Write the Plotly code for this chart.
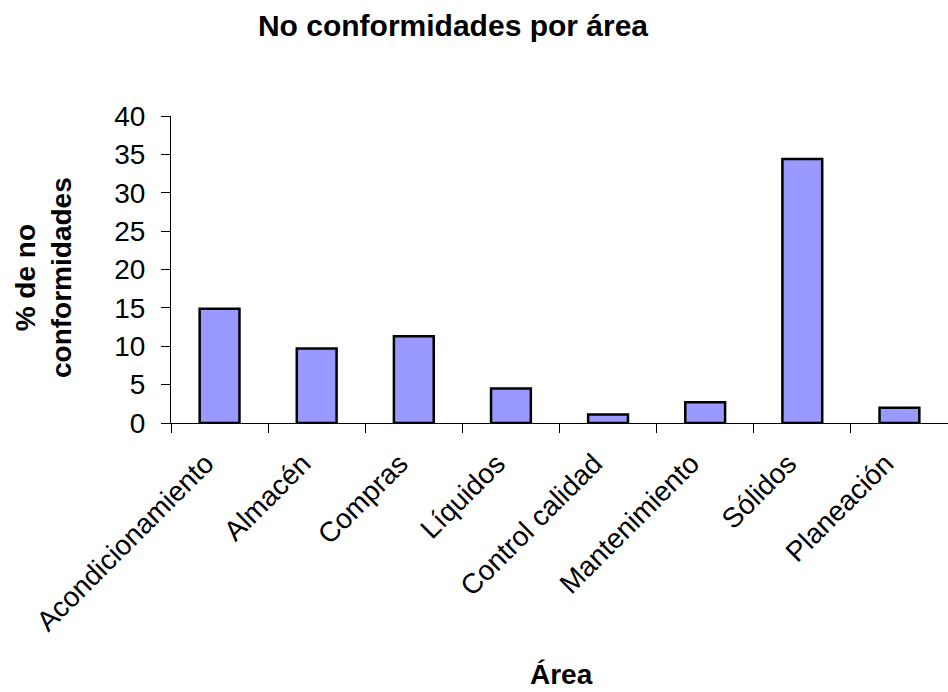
import plotly.graph_objects as go

categorias = ["Acondicionamiento", "Almacén", "Compras", "Líquidos",
              "Control calidad", "Mantenimiento", "Sólidos", "Planeación"]
porcentajes = [14.9, 9.7, 11.3, 4.5, 1.1, 2.7, 34.4, 2.0]
y_ticks = [0, 5, 10, 15, 20, 25, 30, 35, 40]

FONT = "Liberation Sans, Arial, sans-serif"

fig = go.Figure(go.Bar(
    x=categorias, y=porcentajes,
    marker=dict(color="#9999FF", line=dict(color="black", width=2.5)),
    width=0.41,
))

fig.update_layout(
    width=948, height=692,
    margin=dict(l=171, r=0, t=116, b=269),
    paper_bgcolor="white", plot_bgcolor="white",
    font=dict(family=FONT, size=28, color="black"),
    showlegend=False,
    title=dict(text="<b>No conformidades por área</b>", xref="container", x=453/948,
               xanchor="center", yref="container", y=1 - 25/692, yanchor="middle",
               font=dict(size=30, family=FONT)),
    xaxis=dict(showline=True, linecolor="black", linewidth=1, automargin=False,
               ticks="outside", tickson="boundaries", ticklen=9, tickcolor="black",
               tickangle=-45, tickfont=dict(size=28), showgrid=False,
               ticklabelshift=-14, ticklabelstandoff=12),
    yaxis=dict(range=[0, 40], tickvals=y_ticks, showline=True, linecolor="black",
               linewidth=1, ticks="outside", ticklen=9, tickcolor="black",
               automargin=False, ticklabelstandoff=10,
               tickfont=dict(size=28), showgrid=False, zeroline=False),
    annotations=[
        dict(text="<b>Área</b>", xref="paper", yref="paper",
             x=(561 - 171) / 777, y=-(674 - 423) / 307, showarrow=False,
             font=dict(size=28), xanchor="center", yanchor="middle"),
        dict(text="<b>% de no<br>conformidades</b>", xref="paper", yref="paper",
             x=-(171 - 43) / 777, y=(423 - 278) / 307, showarrow=False, textangle=-90,
             font=dict(size=28), xanchor="center", yanchor="middle"),
    ],
)

fig.write_html("out.html")
